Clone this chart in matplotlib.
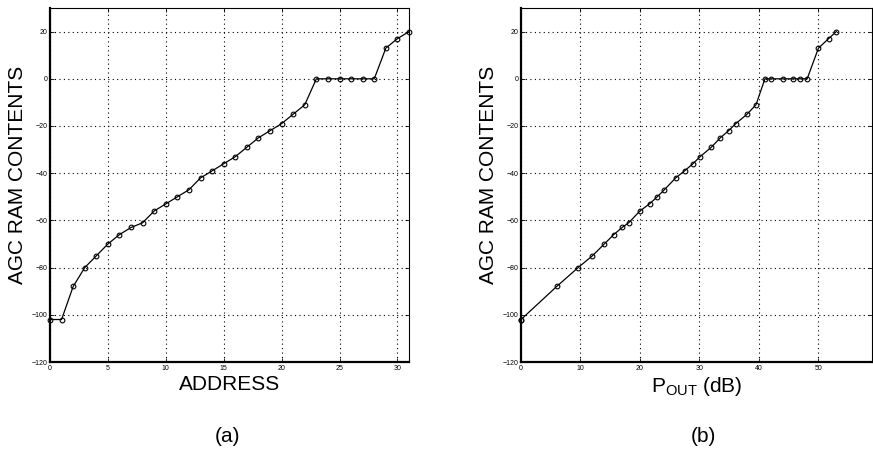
#!/usr/bin/env python

import matplotlib
matplotlib.use('Agg')
import matplotlib.pyplot as plt

plt.rcParams['font.family'] = ['Liberation Sans', 'DejaVu Sans']

## data
address = list(range(32))
ram = [-102, -102, -88, -80, -75, -70, -66, -63, -61, -56, -53, -50, -47, -42, -39, -36,
       -33, -29, -25, -22, -19, -15, -11, 0, 0, 0, 0, 0, 0, 13, 17, 20]
pout = [0, 0, 6, 9.6, 12, 14, 15.6, 17, 18.1, 20, 21.6, 22.9, 24.1, 26, 27.5, 28.9,
        30.1, 32, 33.5, 34.9, 36.1, 38, 39.5, 41, 42.1, 44.1, 45.7, 46.9, 48.1, 50, 51.7, 53]
yticks = [-120, -100, -80, -60, -40, -20, 0, 20]


def style(ax, xlim, xticks, labelx):
    ax.set_xlim(xlim)
    ax.set_ylim([-120, 30])
    ax.set_xticks(xticks)
    ax.set_yticks(yticks)
    ax.grid(True, color='black', linestyle=(0, (1, 3)), linewidth=0.8)
    ax.tick_params(direction='in', length=3, width=0.6, labelsize=5, pad=2,
                   top=True, right=True)
    for s in ax.spines.values():
        s.set_linewidth(0.8)
    ax.spines['left'].set_linewidth(1.6)
    ax.spines['bottom'].set_linewidth(1.6)
    ax.set_ylabel('AGC RAM CONTENTS', fontsize=15)
    ax.yaxis.set_label_coords(labelx, 0.53)


fig = plt.figure(figsize=(8.73, 4.54), dpi=100)

ax = fig.add_axes([50/873., 1-362/454., 359/873., 354/454.])
ax.plot(address, ram, color='black', linewidth=0.9, marker='o', markersize=3.4,
        markerfacecolor='none', markeredgecolor='black', markeredgewidth=0.8, clip_on=False)
style(ax, [0, 31], [0, 5, 10, 15, 20, 25, 30], -0.064)
ax.set_xlabel('ADDRESS', fontsize=15, labelpad=2)
fig.text(228/873., 1-437/454., '(a)', fontsize=15, ha='center', va='center')

ax = fig.add_axes([521/873., 1-362/454., 351/873., 354/454.])
ax.plot(pout, ram, color='black', linewidth=0.9, marker='o', markersize=3.4,
        markerfacecolor='none', markeredgecolor='black', markeredgewidth=0.8, clip_on=False)
style(ax, [0, 59], [0, 10, 20, 30, 40, 50], -0.066)
ax.set_xlabel(r'$\mathregular{P_{OUT}}$ (dB)', fontsize=15, labelpad=2)
fig.text(703/873., 1-437/454., '(b)', fontsize=15, ha='center', va='center')

fig.savefig('out.png', dpi=100)
